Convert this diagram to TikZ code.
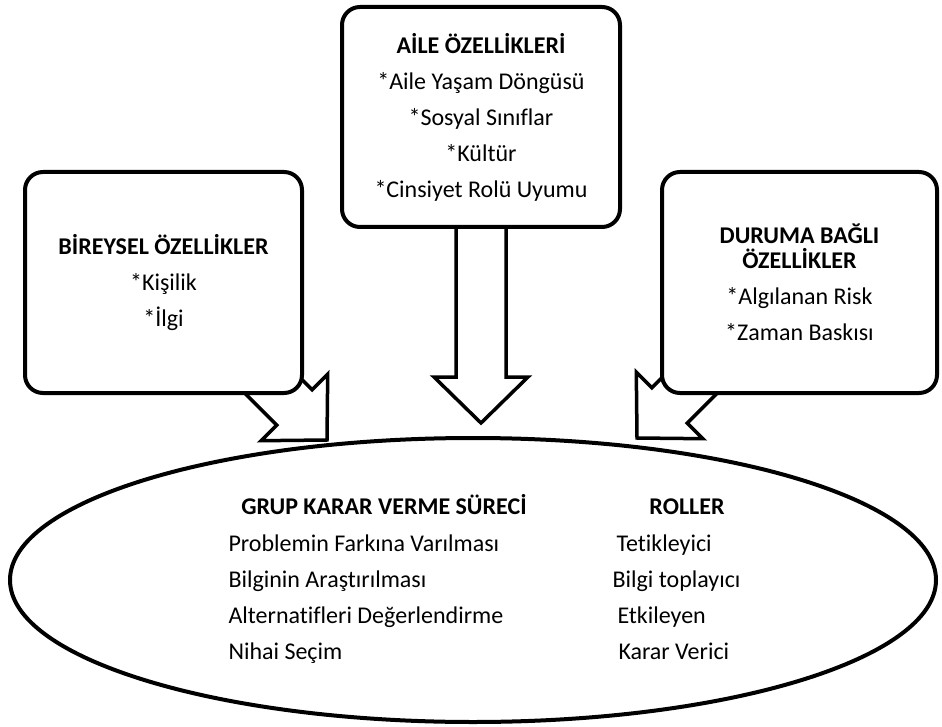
\documentclass[tikz,border=0pt]{standalone}
\usepackage{fontspec}
\setmainfont{Carlito}[Ligatures=NoCommon]
\usetikzlibrary{shapes.geometric}

\tikzset{every picture/.style={line width=1pt}}
\tikzset{
  featbox/.style={draw, fill=white, line width=4pt, rounded corners=18pt, minimum width=277pt, minimum height=221pt, align=center, inner sep=0pt, font=\fontsize{24}{36}\selectfont},
  arrowline/.style={draw, fill=white, line width=3.5pt, line join=miter},
  pics/blockarrow/.style={code={\path[arrowline] (0,0) -- (-46,47) -- (-46,25) -- (-#1,25) -- (-#1,-25) -- (-46,-25) -- (-46,-47) -- cycle;}},
  listtext/.style={anchor=west, inner sep=0pt, text height=16pt, text depth=4pt, font=\fontsize{24}{29}\selectfont},
  headtext/.style={inner sep=0pt, text height=16pt, text depth=4pt, font=\fontsize{24}{29}\selectfont\bfseries}
}

\begin{document}
\begin{tikzpicture}[x=1pt,y=1pt,yscale=-1,xscale=1]
	\useasboundingbox (0,0) rectangle (942,727);

	%Shape: Ellipse [id:proc]
	\node [draw, ellipse, fill=white, line width=4pt, minimum width=926pt, minimum height=284pt, inner sep=0pt] (proc) at (473,580) {};

	%Block Arrows
	\coordinate (tipL) at (327,440);
	\coordinate (tipC) at (481,423);
	\coordinate (tipR) at (637,438);
	\pic [rotate=-45] at (tipL) {blockarrow=110};
	\pic [rotate=-90] at (tipC) {blockarrow=200};
	\pic [rotate=-135] at (tipR) {blockarrow=110};

	%Rounded Boxes
	\node [featbox] (bireysel) at (163.5,282.5) {\textbf{BİREYSEL ÖZELLİKLER}\\*Kişilik\\*İlgi};
	\node [featbox, minimum width=278pt, minimum height=220pt] (aile) at (481,117) {\textbf{AİLE ÖZELLİKLERİ}\\*Aile Yaşam Döngüsü\\*Sosyal Sınıflar\\*Kültür\\*Cinsiyet Rolü Uyumu};
	\node [featbox, minimum width=275pt] (durum) at (799.5,282.5) {\textbf{DURUMA BAĞLI}\\[-11pt]\textbf{ÖZELLİKLER}\\*Algılanan Risk\\*Zaman Baskısı};

	% Text Node
	\node [headtext] (grup) at (384,508) {GRUP KARAR VERME SÜRECİ};
	% Text Node
	\node [headtext] (roller) at (687,508) {ROLLER};
	% Text Node
	\node [listtext] (adim1) at (228,545) {Problemin Farkına Varılması};
	% Text Node
	\node [listtext] (adim2) at (228,581) {Bilginin Araştırılması};
	% Text Node
	\node [listtext] (adim3) at (228,617) {Alternatifleri Değerlendirme};
	% Text Node
	\node [listtext] (adim4) at (228,653) {Nihai Seçim};
	% Text Node
	\node [listtext] (rol1) at (616,545) {Tetikleyici};
	% Text Node
	\node [listtext] (rol2) at (612,581) {Bilgi toplayıcı};
	% Text Node
	\node [listtext] (rol3) at (617,617) {Etkileyen};
	% Text Node
	\node [listtext] (rol4) at (618,653) {Karar Verici};

\end{tikzpicture}
\end{document}
